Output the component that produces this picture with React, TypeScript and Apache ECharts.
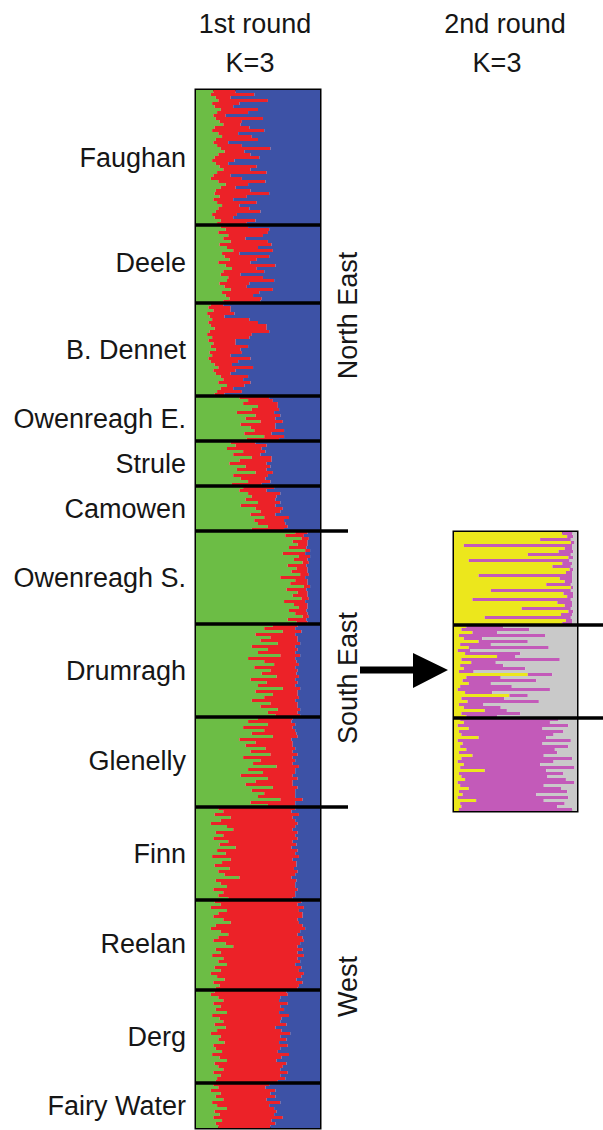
import React, { useEffect, useRef } from 'react';
import * as echarts from 'echarts';

// ---------- Round 1 (K=3): membership % of cluster 1 (green) and cluster 2 (red); blue = remainder ----------
const round1Names = ['Faughan', 'Deele', 'B. Dennet', 'Owenreagh E.', 'Strule', 'Camowen', 'Owenreagh S.', 'Drumragh', 'Glenelly', 'Finn', 'Reelan', 'Derg', 'Fairy Water'];

const faughanGreen = [14, 12, 16, 18, 13, 15, 20, 17, 14, 16, 19, 22, 15, 13, 18, 21, 16, 14, 17, 20, 23, 18, 15, 13, 16, 19, 22, 17, 14, 12, 18, 24, 20, 16, 15, 19, 14, 17, 21, 18, 16, 13, 15, 20, 17];
const faughanRed = [18, 35, 12, 40, 22, 15, 30, 25, 10, 38, 18, 14, 28, 42, 16, 24, 34, 12, 20, 40, 16, 26, 36, 18, 10, 30, 22, 40, 14, 25, 38, 18, 12, 28, 44, 22, 16, 32, 14, 25, 36, 20, 15, 28, 24];
const deeleGreen = [20, 24, 18, 26, 22, 28, 19, 25, 30, 21, 23, 27, 18, 24, 29, 22, 20, 26, 25, 19, 23, 28, 21, 24, 27, 22];
const deeleRed = [22, 35, 40, 28, 18, 30, 42, 25, 32, 14, 36, 22, 26, 40, 20, 33, 16, 28, 38, 24, 18, 34, 30, 22, 26, 30];
const bDennetGreen = [12, 10, 14, 9, 11, 13, 10, 12, 15, 11, 9, 13, 10, 14, 12, 16, 11, 13, 10, 12, 15, 18, 14, 16, 20, 22, 18, 25, 20, 17, 15];
const bDennetRed = [10, 18, 14, 22, 12, 30, 40, 45, 42, 48, 36, 30, 22, 18, 30, 20, 26, 15, 34, 22, 14, 28, 18, 12, 22, 16, 26, 14, 10, 20, 8];
const owenreaghEGreen = [35, 42, 38, 50, 45, 33, 48, 40, 52, 36, 44, 47, 39, 55, 41];
const owenreaghERed = [24, 20, 28, 16, 22, 30, 20, 24, 18, 28, 20, 24, 22, 16, 26];
const struleGreen = [28, 32, 25, 38, 30, 45, 35, 27, 40, 33, 48, 30, 36, 42, 29];
const struleRed = [20, 25, 28, 18, 22, 16, 26, 30, 20, 24, 14, 28, 20, 18, 24];
const camowenGreen = [38, 35, 42, 45, 40, 50, 36, 48, 52, 44, 55, 47, 50, 58, 45];
const camowenRed = [25, 22, 26, 20, 24, 18, 28, 22, 16, 20, 20, 24, 22, 16, 26];
const owenreaghSGreen = [80, 72, 85, 78, 82, 75, 88, 70, 83, 79, 86, 74, 81, 77, 84, 68, 80, 76, 87, 73, 82, 78, 85, 71, 79, 83, 75, 80, 86, 74, 81];
const owenreaghSRed = [10, 15, 6, 12, 8, 14, 4, 18, 9, 11, 5, 15, 9, 13, 7, 20, 10, 14, 5, 16, 8, 12, 6, 17, 11, 7, 14, 10, 5, 15, 9];
const drumraghGreen = [62, 55, 70, 48, 60, 52, 66, 45, 58, 50, 68, 42, 55, 63, 47, 60, 53, 65, 44, 57, 50, 70, 48, 62, 55, 45, 60, 52, 66, 58, 64];
const drumraghRed = [20, 25, 15, 32, 22, 30, 18, 35, 24, 30, 16, 38, 26, 20, 33, 22, 28, 18, 36, 25, 30, 14, 34, 20, 28, 35, 22, 30, 18, 24, 20];
const glenellyGreen = [50, 42, 58, 38, 55, 45, 62, 35, 48, 40, 56, 44, 60, 38, 52, 46, 65, 42, 54, 36, 58, 48, 40, 62, 45, 55, 50, 68, 44, 58];
const glenellyRed = [28, 35, 22, 40, 25, 36, 20, 42, 30, 38, 24, 34, 22, 40, 28, 32, 18, 38, 26, 42, 24, 30, 38, 20, 35, 25, 30, 18, 36, 22];
const finnGreen = [18, 22, 15, 28, 20, 12, 25, 30, 16, 22, 14, 26, 19, 32, 17, 24, 13, 28, 21, 15, 27, 18, 23, 35, 16, 20, 25, 14, 22, 18, 26];
const finnRed = [62, 55, 68, 50, 60, 70, 55, 48, 66, 58, 68, 52, 62, 45, 65, 56, 70, 50, 60, 66, 52, 64, 57, 42, 65, 60, 55, 68, 58, 62, 52];
const reelanGreen = [15, 20, 12, 25, 18, 14, 22, 28, 16, 12, 20, 26, 18, 14, 24, 30, 16, 20, 13, 22, 18, 25, 15, 20, 12, 17, 23, 14, 19, 16];
const reelanRed = [70, 62, 75, 58, 68, 72, 60, 55, 70, 76, 64, 56, 68, 73, 60, 52, 70, 62, 74, 60, 66, 55, 70, 63, 75, 68, 58, 72, 64, 66];
const dergGreen = [15, 12, 18, 22, 14, 20, 16, 25, 13, 19, 22, 15, 24, 17, 12, 20, 18, 23, 14, 16, 21, 13, 19, 25, 15, 18, 22, 14, 20, 17, 16];
const dergRed = [58, 62, 50, 45, 60, 48, 55, 42, 62, 50, 46, 58, 40, 52, 64, 48, 55, 44, 60, 52, 45, 62, 50, 40, 58, 52, 46, 60, 48, 55, 50];
const fairyWaterGreen = [14, 18, 12, 20, 16, 22, 13, 17, 25, 15, 19, 14, 21, 16, 18];
const fairyWaterRed = [45, 38, 52, 40, 48, 35, 55, 42, 38, 50, 44, 56, 40, 48, 42];

const round1Green = [faughanGreen, deeleGreen, bDennetGreen, owenreaghEGreen, struleGreen, camowenGreen, owenreaghSGreen, drumraghGreen, glenellyGreen, finnGreen, reelanGreen, dergGreen, fairyWaterGreen];
const round1Red = [faughanRed, deeleRed, bDennetRed, owenreaghERed, struleRed, camowenRed, owenreaghSRed, drumraghRed, glenellyRed, finnRed, reelanRed, dergRed, fairyWaterRed];

// region labels and the population that closes each region
const regionNames = ['North East', 'South East', 'West'];
const regionLastPop = ['Camowen', 'Glenelly', 'Fairy Water'];
const regionLabelShift = [5, 9, 19];

// ---------- Round 2 (K=3, South East only): yellow, magenta; grey = remainder ----------
const round2Names = ['Owenreagh S.', 'Drumragh', 'Glenelly'];
const owenreaghS2Yellow = [88, 92, 70, 95, 8, 90, 85, 60, 93, 12, 88, 80, 94, 91, 20, 86, 90, 75, 95, 30, 89, 92, 15, 84, 90, 55, 93, 87, 25, 91, 88];
const owenreaghS2Magenta = [8, 5, 25, 3, 88, 6, 12, 35, 4, 82, 8, 15, 3, 5, 76, 10, 6, 20, 2, 65, 8, 5, 80, 12, 6, 40, 4, 9, 70, 5, 8];
const drumragh2Yellow = [10, 6, 15, 4, 8, 20, 5, 12, 3, 9, 35, 6, 14, 5, 8, 4, 60, 10, 7, 12, 5, 3, 9, 45, 6, 11, 4, 8, 25, 6, 10];
const drumragh2Magenta = [30, 55, 20, 70, 15, 40, 25, 65, 10, 45, 15, 80, 20, 35, 50, 12, 20, 28, 60, 18, 42, 75, 22, 15, 35, 58, 20, 30, 18, 48, 25];
const glenelly2Yellow = [5, 8, 3, 12, 4, 6, 20, 3, 7, 5, 10, 4, 15, 6, 3, 8, 5, 25, 4, 6, 9, 3, 5, 12, 4, 7, 3, 18, 5, 6, 4];
const glenelly2Magenta = [80, 70, 90, 60, 85, 75, 55, 92, 65, 88, 72, 80, 58, 90, 78, 62, 93, 50, 85, 70, 82, 95, 68, 75, 88, 60, 90, 55, 85, 78, 92];
const round2Yellow = [owenreaghS2Yellow, drumragh2Yellow, glenelly2Yellow];
const round2Magenta = [owenreaghS2Magenta, drumragh2Magenta, glenelly2Magenta];

const titles = ['1st round', '2nd round'];
const kLabel = 'K=3';

const FONT = '"Liberation Sans", Arial, Helvetica, sans-serif';
const TEXT = '#161616';
const GREEN = '#6cbd45';
const RED = '#ec2228';
const BLUE = '#3d52a6';
const YELLOW = '#ece71c';
const MAGENTA = '#c35ab9';
const GRAY = '#c9c9c9';

function build(names: string[], a: number[][], b: number[][]) {
  const cats: string[] = [];
  const s1: number[] = [];
  const s2: number[] = [];
  const s3: number[] = [];
  const starts: number[] = [];
  const labelAt: Record<number, string> = {};
  names.forEach((name, p) => {
    const av = a[p];
    const bv = b[p];
    starts.push(cats.length);
    labelAt[cats.length + Math.floor((av.length - 1) / 2)] = name;
    av.forEach((v, i) => {
      cats.push(name + ' #' + (i + 1));
      s1.push(v);
      s2.push(bv[i]);
      s3.push(100 - v - bv[i]);
    });
  });
  return { cats, s1, s2, s3, starts, labelAt };
}

const r1 = build(round1Names, round1Green, round1Red);
const r2 = build(round2Names, round2Yellow, round2Magenta);

const ROW = 3;

export default function App() {
  const ref = useRef<HTMLDivElement>(null);
  useEffect(() => {
    document.body.style.margin = '0';
    const chart = echarts.init(ref.current as HTMLDivElement, null, { renderer: 'svg' });
    const barBase = { type: 'bar', barCategoryGap: '0%', silent: true };
    const option: any = {
      animation: false,
      backgroundColor: '#ffffff',
      grid: [
        { left: 196, top: 90, width: 124, height: r1.cats.length * ROW, show: true, borderColor: '#000', borderWidth: 3, backgroundColor: 'transparent', containLabel: false, outerBoundsMode: 'none' },
        { left: 454, top: 532, width: 123, height: r2.cats.length * ROW, show: true, borderColor: '#000', borderWidth: 3, backgroundColor: 'transparent', containLabel: false, outerBoundsMode: 'none' },
      ],
      xAxis: [
        { type: 'value', gridIndex: 0, min: 0, max: 100, show: false },
        { type: 'value', gridIndex: 1, min: 0, max: 100, show: false },
      ],
      yAxis: [
        {
          type: 'category', gridIndex: 0, inverse: true, data: r1.cats,
          axisLine: { show: false }, axisTick: { show: false }, splitLine: { show: false },
          axisLabel: {
            interval: 0, margin: 10, fontSize: 27, fontFamily: FONT, color: TEXT,
            formatter: (_v: string, idx: number) => r1.labelAt[idx] || '',
          },
        },
        {
          type: 'category', gridIndex: 1, inverse: true, data: r2.cats,
          axisLine: { show: false }, axisTick: { show: false }, axisLabel: { show: false }, splitLine: { show: false },
        },
      ],
      series: [
        { ...barBase, name: 'Cluster 1', stack: 'r1', xAxisIndex: 0, yAxisIndex: 0, data: r1.s1, itemStyle: { color: GREEN, borderWidth: 0 } },
        { ...barBase, name: 'Cluster 2', stack: 'r1', xAxisIndex: 0, yAxisIndex: 0, data: r1.s2, itemStyle: { color: RED, borderWidth: 0 } },
        { ...barBase, name: 'Cluster 3', stack: 'r1', xAxisIndex: 0, yAxisIndex: 0, data: r1.s3, itemStyle: { color: BLUE, borderWidth: 0 } },
        { ...barBase, name: 'SE 1', stack: 'r2', xAxisIndex: 1, yAxisIndex: 1, data: r2.s1, itemStyle: { color: YELLOW, borderWidth: 0 } },
        { ...barBase, name: 'SE 2', stack: 'r2', xAxisIndex: 1, yAxisIndex: 1, data: r2.s2, itemStyle: { color: MAGENTA, borderWidth: 0 } },
        { ...barBase, name: 'SE 3', stack: 'r2', xAxisIndex: 1, yAxisIndex: 1, data: r2.s3, itemStyle: { color: GRAY, borderWidth: 0 } },
      ],
    };
    chart.setOption(option);

    const px = (finder: any, v: any) => chart.convertToPixel(finder, v) as unknown as number;
    const graphics: any[] = [];
    const lineStyle = { stroke: '#000', lineWidth: 3.5 };

    // round 1 separators
    const x1L = px({ xAxisIndex: 0 }, 0);
    const x1R = px({ xAxisIndex: 0 }, 100);
    const band1 = px({ yAxisIndex: 0 }, r1.cats[1]) - px({ yAxisIndex: 0 }, r1.cats[0]);
    const boundary1 = (i: number) => px({ yAxisIndex: 0 }, r1.cats[i]) - band1 / 2;
    r1.starts.forEach((s, p) => {
      if (p === 0) return;
      const prev = round1Names[p - 1];
      const ext = regionLastPop.indexOf(prev) >= 0 ? 28 : 0;
      const y = boundary1(s);
      graphics.push({ type: 'line', z: 100, shape: { x1: x1L, y1: y, x2: x1R + ext, y2: y }, style: lineStyle, silent: true });
    });

    // region labels
    let regionStart = 0;
    regionLastPop.forEach((last, r) => {
      const p = round1Names.indexOf(last);
      const endRow = r1.starts[p] + round1Green[p].length;
      const yTop = boundary1(regionStart);
      const yBot = endRow < r1.cats.length ? boundary1(endRow) : boundary1(r1.cats.length - 1) + band1;
      graphics.push({
        type: 'text', z: 100, x: 348, y: (yTop + yBot) / 2 + regionLabelShift[r], rotation: Math.PI / 2,
        style: { text: regionNames[r], fontSize: 27, fontFamily: FONT, fill: TEXT, align: 'center', verticalAlign: 'middle', textAlign: 'center', textVerticalAlign: 'middle' },
        silent: true,
      });
      regionStart = endRow;
    });

    // round 2 separators
    const x2L = px({ xAxisIndex: 1 }, 0);
    const band2 = px({ yAxisIndex: 1 }, r2.cats[1]) - px({ yAxisIndex: 1 }, r2.cats[0]);
    r2.starts.forEach((s, p) => {
      if (p === 0) return;
      const y = px({ yAxisIndex: 1 }, r2.cats[s]) - band2 / 2;
      graphics.push({ type: 'line', z: 100, shape: { x1: x2L, y1: y, x2: 603, y2: y }, style: lineStyle, silent: true });
    });

    // titles
    const titleStyle = { fontSize: 27, fontFamily: FONT, fill: TEXT, align: 'center', verticalAlign: 'middle', textAlign: 'center', textVerticalAlign: 'middle' };
    graphics.push({ type: 'text', z: 100, x: 255, y: 24, style: { ...titleStyle, text: titles[0] }, silent: true });
    graphics.push({ type: 'text', z: 100, x: 250, y: 63, style: { ...titleStyle, text: kLabel }, silent: true });
    graphics.push({ type: 'text', z: 100, x: 505, y: 24, style: { ...titleStyle, text: titles[1] }, silent: true });
    graphics.push({ type: 'text', z: 100, x: 497, y: 63, style: { ...titleStyle, text: kLabel }, silent: true });

    // arrow from round 1 to round 2
    graphics.push({
      type: 'polygon', z: 100,
      shape: { points: [[360, 666.5], [413, 666.5], [413, 653], [448, 670], [413, 688], [413, 673.5], [360, 673.5]] },
      style: { fill: '#000' },
      silent: true,
    });

    chart.setOption({ graphic: graphics });
    return () => chart.dispose();
  }, []);
  return <div ref={ref} style={{ position: 'absolute', left: 0, top: 0, width: 603, height: 1130 }} />;
}
